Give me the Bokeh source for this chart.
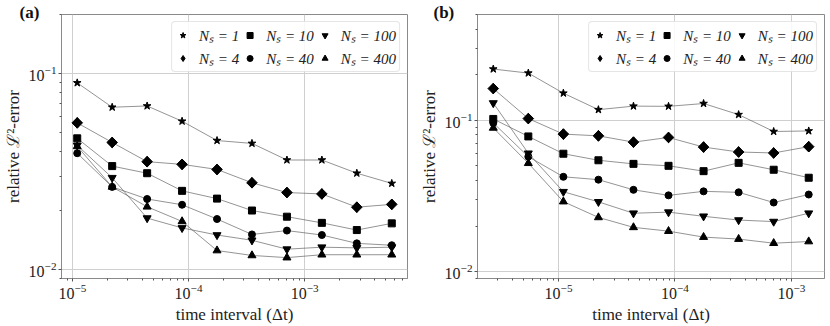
import numpy as np
from bokeh.plotting import figure
from bokeh.models import (FixedTicker, LogTickFormatter, Legend, LegendItem, Range1d)
from bokeh.layouts import row
from bokeh.embed import file_html
from bokeh.resources import INLINE

# ---------------- data ----------------
ns_labels = ["Nₛ = 1", "Nₛ = 4", "Nₛ = 10", "Nₛ = 40", "Nₛ = 100", "Nₛ = 400"]
markers = ["star", "diamond", "square", "circle", "inverted_triangle", "triangle"]

dt_a = [1.1e-5, 2.2e-5, 4.4e-5, 8.8e-5, 1.76e-4, 3.52e-4, 7.04e-4, 1.408e-3, 2.816e-3, 5.632e-3]
a_ns1 = [0.0896, 0.0673, 0.0683, 0.0571, 0.0455, 0.0440, 0.0362, 0.0362, 0.0310, 0.0275]
a_ns4 = [0.0560, 0.0445, 0.0355, 0.0344, 0.0324, 0.0277, 0.0247, 0.0243, 0.0208, 0.0215]
a_ns10 = [0.0467, 0.0337, 0.0310, 0.0252, 0.0230, 0.0200, 0.0186, 0.0173, 0.0159, 0.0172]
a_ns40 = [0.0392, 0.0264, 0.0229, 0.0214, 0.0181, 0.0151, 0.0158, 0.0150, 0.0136, 0.0133]
a_ns100 = [0.0430, 0.0294, 0.0183, 0.0163, 0.0150, 0.0141, 0.0127, 0.0130, 0.0129, 0.0130]
a_ns400 = [0.0425, 0.0264, 0.0209, 0.0176, 0.0125, 0.0118, 0.0115, 0.0119, 0.0119, 0.0119]

dt_b = [2.75e-6, 5.5e-6, 1.1e-5, 2.2e-5, 4.4e-5, 8.8e-5, 1.76e-4, 3.52e-4, 7.04e-4, 1.408e-3]
b_ns1 = [0.218, 0.205, 0.151, 0.1175, 0.124, 0.1236, 0.129, 0.109, 0.0843, 0.085]
b_ns4 = [0.162, 0.1026, 0.081, 0.0789, 0.0717, 0.077, 0.0665, 0.0617, 0.0608, 0.0669]
b_ns10 = [0.102, 0.0782, 0.0601, 0.0544, 0.0515, 0.050, 0.0461, 0.0523, 0.0471, 0.0417]
b_ns40 = [0.096, 0.0575, 0.0423, 0.0405, 0.0347, 0.0319, 0.0339, 0.0334, 0.0286, 0.0323]
b_ns100 = [0.130, 0.0605, 0.0337, 0.0289, 0.0243, 0.0247, 0.0232, 0.0219, 0.0214, 0.0243]
b_ns400 = [0.089, 0.052, 0.0290, 0.0228, 0.0196, 0.0185, 0.0169, 0.0164, 0.0154, 0.0158]

ylim_a = (0.009, 0.2)
ylim_b = (0.009, 0.5)

x_major = [1e-5, 1e-4, 1e-3]
y_major = [1e-2, 1e-1]
minor = [m * 10.0 ** e for e in range(-7, 1) for m in range(2, 10)]

FONT = "Liberation Serif"


def pad_log(vals, frac=0.05):
    lo, hi = np.log10(min(vals)), np.log10(max(vals))
    d = (hi - lo) * frac
    return 10 ** (lo - d), 10 ** (hi + d)


def make_panel(dt, series, ylim, tag, width, bl, br, tag_x):
    xlo, xhi = pad_log(dt)
    p = figure(width=width, height=326, x_axis_type="log", y_axis_type="log",
               x_range=Range1d(xlo, xhi), y_range=Range1d(*ylim),
               output_backend="svg", toolbar_location=None,
               min_border_left=bl, min_border_right=br,
               min_border_top=14, min_border_bottom=46)
    p.background_fill_color = "white"
    p.border_fill_color = "white"
    p.outline_line_color = "#8a8a8a"
    p.outline_line_width = 1

    # panel tag "(a)" / "(b)" drawn as the plot title, pulled left over the axis
    p.title.text = tag
    p.title.text_font = FONT
    p.title.text_font_size = "17px"
    p.title.text_font_style = "bold"
    p.title.text_color = "#111111"
    p.title.align = "left"
    p.title.vertical_align = "bottom"
    p.title.offset = tag_x
    try:
        p.title.standoff = -15
    except Exception:
        p.title.standoff = 0

    p.xaxis.ticker = FixedTicker(ticks=x_major, minor_ticks=minor)
    p.yaxis.ticker = FixedTicker(ticks=y_major, minor_ticks=minor)
    for ax in (p.xaxis[0], p.yaxis[0]):
        ax.formatter = LogTickFormatter()
        ax.axis_line_color = "#8a8a8a"
        ax.major_tick_line_color = "#555555"
        ax.minor_tick_line_color = "#555555"
        ax.major_tick_out = 3
        ax.major_tick_in = 0
        ax.minor_tick_out = 2
        ax.minor_tick_in = 0
        ax.major_label_text_font = FONT
        ax.major_label_text_font_size = "16px"
        ax.major_label_text_color = "#222222"
        ax.major_label_standoff = 2
        ax.axis_label_text_font = FONT
        ax.axis_label_text_font_size = "17px"
        ax.axis_label_text_font_style = "normal"
        ax.axis_label_text_color = "#222222"
        ax.axis_label_standoff = 3
    p.xaxis.axis_label = "time interval (Δt)"
    p.yaxis.axis_label = "relative ℒ²-error"

    p.xgrid.ticker = FixedTicker(ticks=x_major)
    p.ygrid.ticker = FixedTicker(ticks=y_major)
    p.grid.grid_line_color = "#cfcfcf"
    p.grid.grid_line_width = 1

    items = []
    sizes = {"star": 8, "diamond": 7.5, "square": 7, "circle": 7,
             "inverted_triangle": 8, "triangle": 8}
    for vals, m, lab in zip(series, markers, ns_labels):
        p.line(dt, vals, line_color="#666666", line_width=0.7)
        if m == "diamond":
            # legend proxy (diamond glyph) sitting under a 45-degree square
            r = p.scatter(dt, vals, marker="diamond", size=10.5, fill_color="black",
                          line_color="black")
            p.scatter(dt, vals, marker="square", angle=np.pi / 4, size=sizes[m],
                      fill_color="black", line_color="black")
        else:
            r = p.scatter(dt, vals, marker=m, size=sizes[m], fill_color="black",
                          line_color="black")
        items.append(LegendItem(label=lab, renderers=[r]))

    leg = Legend(items=items, location="top_right", ncols=3, orientation="vertical")
    leg.label_text_font = FONT
    leg.label_text_font_size = "15px"
    leg.label_text_font_style = "italic"
    leg.label_text_color = "#222222"
    leg.label_height = 18
    leg.glyph_height = 18
    leg.glyph_width = 15
    leg.label_standoff = 9
    leg.spacing = 3
    leg.padding = 3
    leg.margin = 7
    leg.border_line_color = "#cccccc"
    leg.border_line_width = 1
    leg.background_fill_alpha = 0.85
    try:
        leg.border_radius = 4
    except Exception:
        pass
    p.add_layout(leg)
    return p


pa = make_panel(dt_a, [a_ns1, a_ns4, a_ns10, a_ns40, a_ns100, a_ns400], ylim_a,
                "(a)", 415, 59, 8, -42)
pb = make_panel(dt_b, [b_ns1, b_ns4, b_ns10, b_ns40, b_ns100, b_ns400], ylim_b,
                "(b)", 415, 62, 6, -44)

layout = row(pa, pb, spacing=0)
open("out.html", "w").write(file_html(layout, INLINE))
